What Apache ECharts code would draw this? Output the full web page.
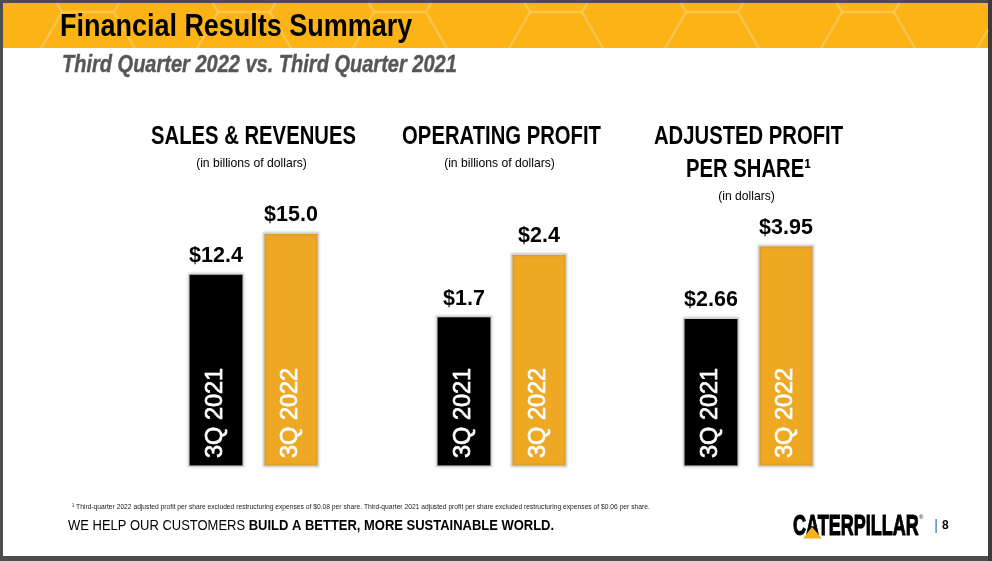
<!DOCTYPE html>
<html><head><meta charset="utf-8">
<script src="https://cdn.jsdelivr.net/npm/echarts@6/dist/echarts.min.js"></script>
<style>html,body{margin:0;padding:0;background:#4a4a4a}#c{width:992px;height:561px}</style>
</head><body><div id="c"></div>
<script>
// ---- data ----
const categories = ['3Q 2021', '3Q 2022'];
const salesRevenues = [12.4, 15.0];
const operatingProfit = [1.7, 2.4];
const adjustedProfitPerShare = [2.66, 3.95];
const valueDecimals = [1, 1, 2];
const chartTitles = [['SALES & REVENUES'], ['OPERATING PROFIT'], ['ADJUSTED PROFIT', 'PER SHARE\u00b9']];
const chartUnits = ['(in billions of dollars)', '(in billions of dollars)', '(in dollars)'];
const pageTitle = 'Financial Results Summary';
const pageSubtitle = 'Third Quarter 2022 vs. Third Quarter 2021';
const footnote = '\u00b9 Third-quarter 2022 adjusted profit per share excluded restructuring expenses of $0.08 per share. Third-quarter 2021 adjusted profit per share excluded restructuring expenses of $0.06 per share.';
const taglineRegular = 'WE HELP OUR CUSTOMERS ';
const taglineBold = 'BUILD A BETTER, MORE SUSTAINABLE WORLD.';
const pageNumber = '8';

// ---- layout / style ----
const FONT = '"Liberation Sans", Arial, sans-serif';
const barColors = ['#000000', '#EEA823'];
const datasets = [salesRevenues, operatingProfit, adjustedProfitPerShare];
const gridLayout = [
  { left: 178.5, top: 232.5 },
  { left: 426.5, top: 253.5 },
  { left: 673.5, top: 245 }
];
const GRID_W = 150, GRID_BOTTOM = 94;

const grids = [], xAxes = [], yAxes = [], series = [];
datasets.forEach((vals, i) => {
  grids.push({ left: gridLayout[i].left, top: gridLayout[i].top, width: GRID_W, bottom: GRID_BOTTOM });
  xAxes.push({ type: 'category', gridIndex: i, data: categories, show: false });
  yAxes.push({ type: 'value', gridIndex: i, min: 0, max: Math.max(...vals), show: false });
  series.push({
    type: 'bar', xAxisIndex: i, yAxisIndex: i, barWidth: 56, barGap: '-100%',
    data: vals.map((v, j) => ({ value: v, itemStyle: { color: barColors[j] } })),
    itemStyle: { borderColor: '#d4d4d4', borderWidth: 1.5, shadowColor: 'rgba(0,0,0,0.22)', shadowBlur: 3 },
    label: {
      show: true, position: 'insideBottom', rotate: 90, align: 'left', verticalAlign: 'middle',
      distance: 9, formatter: p => categories[p.dataIndex],
      color: '#fff', fontFamily: FONT, fontSize: 23.5,
      textBorderColor: '#fff', textBorderWidth: 0.7
    },
    silent: true, animation: false
  });
  series.push({
    type: 'bar', xAxisIndex: i, yAxisIndex: i, barWidth: 56, barGap: '-100%',
    data: vals.slice(), itemStyle: { color: 'transparent' },
    label: {
      show: true, position: 'top', distance: 6,
      formatter: p => '$' + p.value.toFixed(valueDecimals[i]),
      color: '#000', fontFamily: FONT, fontWeight: 'bold', fontSize: 21.5
    },
    silent: true, animation: false
  });
});

// ---- graphics ----
const g = [];
g.push({ type: 'rect', shape: { x: 3, y: 3, width: 985, height: 553 }, style: { fill: '#ffffff' } });
g.push({ type: 'rect', shape: { x: 988, y: 0, width: 4, height: 561 }, style: { fill: '#3a3a3a' } });
const HY0 = 3, HY1 = 48;
g.push({ type: 'rect', shape: { x: 3, y: HY0, width: 985, height: HY1 - HY0 }, style: { fill: '#FCB316' } });
function clipSeg(x1, y1, x2, y2) {
  let t0 = 0, t1 = 1;
  const dx = x2 - x1, dy = y2 - y1;
  const p = [-dx, dx, -dy, dy], q = [x1 - 3, 988 - x1, y1 - HY0, HY1 - y1];
  for (let k = 0; k < 4; k++) {
    if (p[k] === 0) { if (q[k] < 0) return null; }
    else {
      const r = q[k] / p[k];
      if (p[k] < 0) { if (r > t1) return null; if (r > t0) t0 = r; }
      else { if (r < t0) return null; if (r < t1) t1 = r; }
    }
  }
  return [x1 + t0 * dx, y1 + t0 * dy, x1 + t1 * dx, y1 + t1 * dy];
}
const HR = 52, HH = HR * Math.sqrt(3) / 2;
for (let col = -1; col < 14; col++) {
  for (let row = -1; row < 2; row++) {
    const cx = col * HR * 1.5 + 10;
    const cy = row * HH * 2 + (col % 2 ? HH : 0) + 12;
    for (let k = 0; k < 6; k++) {
      const a1 = Math.PI / 3 * k, a2 = Math.PI / 3 * (k + 1);
      const s = clipSeg(cx + HR * Math.cos(a1), cy + HR * Math.sin(a1), cx + HR * Math.cos(a2), cy + HR * Math.sin(a2));
      if (s) g.push({ type: 'line', shape: { x1: s[0], y1: s[1], x2: s[2], y2: s[3] }, style: { stroke: 'rgba(255,255,255,0.12)', lineWidth: 2.5 }, silent: true });
    }
  }
}
// titles
g.push({ type: 'text', x: 60, y: 27, scaleX: 0.87, style: { text: pageTitle, font: 'bold 31px ' + FONT, fill: '#000', textVerticalAlign: 'middle' } });
g.push({ type: 'text', x: 62, y: 66, scaleX: 0.87, style: { text: pageSubtitle, font: 'italic bold 23px ' + FONT, fill: '#575757', stroke: '#575757', lineWidth: 0.4, textVerticalAlign: 'middle' } });

// chart headings
datasets.forEach((vals, i) => {
  const cx = gridLayout[i].left + GRID_W / 2;
  const lines = chartTitles[i];
  lines.forEach((t, k) => {
    g.push({ type: 'text', x: cx, y: 137 + k * 33, scaleX: 0.81, style: { text: t, font: 'bold 25px ' + FONT, fill: '#000', textAlign: 'center', textVerticalAlign: 'middle' } });
  });
  g.push({ type: 'text', x: cx - 2, y: 163 + (lines.length - 1) * 33, scaleX: 0.9, style: { text: chartUnits[i], font: '13.5px ' + FONT, fill: '#000', textAlign: 'center', textVerticalAlign: 'middle' } });
});

// footer
g.push({ type: 'text', x: 72, y: 507, scaleX: 0.893, style: { text: footnote, font: '7.5px ' + FONT, fill: '#222', textVerticalAlign: 'middle' } });
g.push({ type: 'text', x: 68, y: 526, scaleX: 0.865, style: {
  text: '{r|' + taglineRegular + '}{b|' + taglineBold + '}', textVerticalAlign: 'middle',
  rich: { r: { font: '15px ' + FONT, fill: '#000' }, b: { font: 'bold 15px ' + FONT, fill: '#000' } }
} });
// logo
g.push({ type: 'text', x: 793, y: 527, scaleX: 0.6, style: { text: 'CATERPILLAR', font: 'bold 30px ' + FONT, fill: '#000', stroke: '#000', lineWidth: 1.2, textVerticalAlign: 'middle' } });
g.push({ type: 'polygon', shape: { points: [[812, 527], [803, 538.5], [822, 538.5]] }, style: { fill: '#F5B21F' } });
g.push({ type: 'text', x: 919, y: 517, style: { text: '\u00ae', font: '6px ' + FONT, fill: '#000', textVerticalAlign: 'middle' } });
g.push({ type: 'rect', shape: { x: 935.5, y: 519, width: 1.2, height: 14 }, style: { fill: '#2f6db5' } });
g.push({ type: 'text', x: 942, y: 526, style: { text: pageNumber, font: 'bold 12px ' + FONT, fill: '#000', textVerticalAlign: 'middle' } });

const chart = echarts.init(document.getElementById('c'), null, { renderer: 'canvas' });
chart.setOption({
  backgroundColor: '#4d4d4d',
  animation: false,
  graphic: { elements: g },
  grid: grids, xAxis: xAxes, yAxis: yAxes, series: series
});
</script></body></html>
